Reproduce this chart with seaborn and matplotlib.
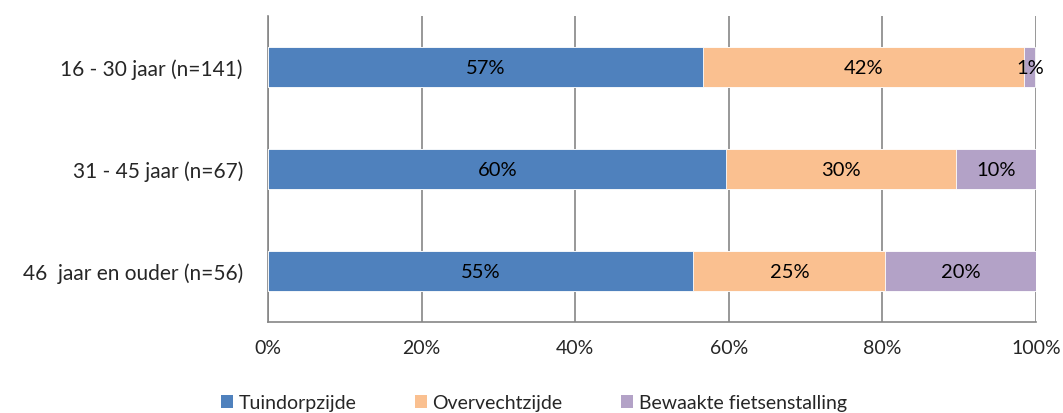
import numpy as np
import pandas as pd
import matplotlib
matplotlib.use("Agg")
import matplotlib.pyplot as plt
from matplotlib.patches import Patch
import seaborn as sns

# data (percentages per age group)
groepen = ["16 - 30 jaar (n=141)", "31 - 45 jaar (n=67)", "46  jaar en ouder (n=56)"]
tuindorpzijde = [56.7, 59.7, 55.4]
overvechtzijde = [41.8, 29.9, 25.0]
fietsenstalling = [1.4, 10.4, 19.6]
labels_tuin = ["57%", "60%", "55%"]
labels_over = ["42%", "30%", "25%"]
labels_fiets = ["1%", "10%", "20%"]
series = ["Tuindorpzijde", "Overvechtzijde", "Bewaakte fietsenstalling"]
kleuren = ["#4F81BD", "#FAC090", "#B3A2C7"]

sns.set_style("white")
plt.rcParams["font.family"] = ["Lato", "DejaVu Sans"]

df = pd.DataFrame({
    "groep": groepen,
    "t": tuindorpzijde,
    "o": overvechtzijde,
    "f": fietsenstalling,
})
df["cum1"] = df["t"]
df["cum2"] = df["t"] + df["o"]
df["cum3"] = df["t"] + df["o"] + df["f"]

fig = plt.figure(figsize=(10.63, 4.14), dpi=100)
ax = fig.add_axes([268 / 1063, 1 - 323 / 414, 768 / 1063, 306 / 414])

# stacked bars drawn as overlapping cumulative bars
for col, kleur in zip(["cum3", "cum2", "cum1"], kleuren[::-1]):
    sns.barplot(data=df, x=col, y="groep", orient="h", color=kleur, width=0.4,
                saturation=1, edgecolor="white", linewidth=0.6, ax=ax, zorder=3)

fs = 14.5
for i in range(len(groepen)):
    left = 0
    for val, lab in zip([tuindorpzijde[i], overvechtzijde[i], fietsenstalling[i]],
                        [labels_tuin[i], labels_over[i], labels_fiets[i]]):
        ax.text(left + val / 2, i, lab, ha="center", va="center", fontsize=fs,
                color="black", zorder=5)
        left += val

ax.set_xlim(0, 100)
ax.set_ylim(2.5, -0.5)
ax.set_xticks(np.arange(0, 101, 20))
ax.set_xticklabels([f"{v}%" for v in range(0, 101, 20)], fontsize=14)
ax.set_yticks(range(len(groepen)))
ax.set_yticklabels(groepen, fontsize=15)
ax.set_yticks([-0.5, 0.5, 1.5, 2.5], minor=True)
ax.tick_params(axis="y", which="major", length=0, pad=18)
ax.tick_params(axis="y", which="minor", length=3.6, color="#868686", width=1.2, direction="out")
ax.tick_params(axis="x", length=3.6, color="#868686", width=1.2, direction="out", pad=9)
ax.set_xlabel("")
ax.set_ylabel("")

ax.grid(axis="x", color="#868686", linewidth=1.2, zorder=0)
ax.set_axisbelow(True)
for s in ["top", "right"]:
    ax.spines[s].set_visible(False)
for s in ["left", "bottom"]:
    ax.spines[s].set_color("#868686")
    ax.spines[s].set_linewidth(1.2)

handles = [Patch(facecolor=c, edgecolor="none", label=n) for c, n in zip(kleuren, series)]
fig.legend(handles=handles, loc="center", bbox_to_anchor=(534 / 1063, 1 - 404 / 414),
           ncol=3, frameon=False, fontsize=14, handlelength=0.6, handleheight=0.6,
           handletextpad=0.3, columnspacing=3.0)

fig.savefig("out.png", dpi=100)
